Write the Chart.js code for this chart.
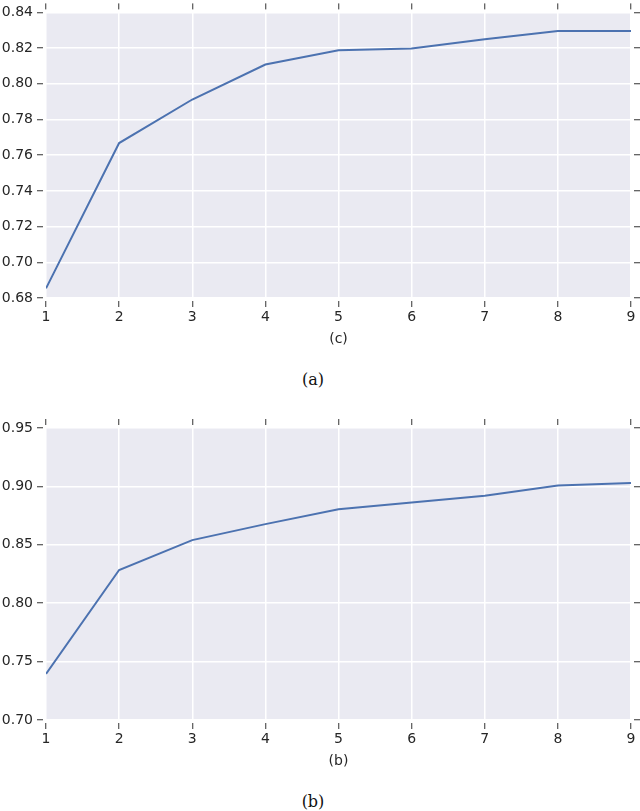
<!DOCTYPE html>
<html>
<head>
<meta charset="utf-8">
<script src="https://cdn.jsdelivr.net/npm/chart.js@4"></script>
<style>
  body { margin: 0; background: #fff; }
  #wrap { position: relative; width: 640px; height: 811px; }
  canvas { position: absolute; left: 0; }
  .cap { position: absolute; left: 0; width: 626px; text-align: center;
         font: 16px "DejaVu Serif", serif; line-height: 18px; color: #111; }
</style>
</head>
<body>
<div id="wrap">
  <canvas id="chartA" width="640" height="351" style="top:0"></canvas>
  <div class="cap" style="top:371px">(a)</div>
  <canvas id="chartB" width="640" height="373" style="top:400px"></canvas>
  <div class="cap" style="top:793px">(b)</div>
</div>
<script>
// data
const steps = [1, 2, 3, 4, 5, 6, 7, 8, 9];
const scoresA = [0.6854, 0.7668, 0.7912, 0.8108, 0.8188, 0.8198, 0.8250, 0.8296, 0.8296];
const scoresB = [0.7395, 0.8284, 0.8540, 0.8677, 0.8805, 0.8862, 0.8919, 0.9007, 0.9030];
const yTicksA = [0.68, 0.70, 0.72, 0.74, 0.76, 0.78, 0.80, 0.82, 0.84];
const yTicksB = [0.70, 0.75, 0.80, 0.85, 0.90, 0.95];

const tickFont = { family: "DejaVu Sans", size: 14 };
const textColor = "#262626";

// seaborn-like grey plot background
const plotBg = {
    id: "plotBg",
    beforeDraw(chart) {
        const a = chart.chartArea;
        const ctx = chart.ctx;
        ctx.save();
        ctx.fillStyle = "#EAEAF2";
        ctx.fillRect(a.left, a.top, a.right - a.left, a.bottom - a.top);
        ctx.restore();
    }
};

function gridOpts(onArea, dash) {
    return {
        display: true,
        drawOnChartArea: onArea,
        color: "#FFFFFF",
        lineWidth: 1.5,
        tickColor: "#333333",
        tickWidth: 1,
        tickLength: 9,
        tickBorderDash: dash
    };
}

function makeChart(id, scores, yTicks, xTitle, topH) {
    const yMin = yTicks[0];
    const yMax = yTicks[yTicks.length - 1];
    const setX = s => { s.ticks = steps.map(v => ({ value: v })); };
    const setY = s => { s.ticks = yTicks.map(v => ({ value: v })); };

    new Chart(document.getElementById(id), {
        type: "line",
        data: {
            datasets: [{
                data: steps.map((s, i) => ({ x: s, y: scores[i] })),
                borderColor: "#4C72B0",
                borderWidth: 2,
                pointRadius: 0,
                tension: 0,
                fill: false
            }]
        },
        options: {
            responsive: false,
            animation: false,
            layout: { padding: 0 },
            plugins: {
                legend: { display: false },
                tooltip: { enabled: false }
            },
            scales: {
                x: {
                    type: "linear", position: "bottom", min: 1, max: 9,
                    afterBuildTicks: setX,
                    afterFit: s => { s.height = 53; },
                    grid: gridOpts(true, [0, 3, 6, 100]),
                    border: { display: false },
                    ticks: { color: textColor, font: tickFont, padding: 2, maxRotation: 0 },
                    title: { display: true, text: xTitle, color: textColor, font: tickFont,
                             padding: { top: 0, bottom: 3 } }
                },
                x2: {
                    type: "linear", position: "top", min: 1, max: 9,
                    afterBuildTicks: setX,
                    afterFit: s => { s.height = topH; },
                    grid: gridOpts(false, [6, 3]),
                    border: { display: false },
                    ticks: { display: false }
                },
                y: {
                    type: "linear", position: "left", min: yMin, max: yMax,
                    afterBuildTicks: setY,
                    afterFit: s => { s.width = 46; },
                    grid: gridOpts(true, [6, 3]),
                    border: { display: false },
                    ticks: { color: textColor, font: tickFont, padding: 4,
                             callback: v => v.toFixed(2) }
                },
                y2: {
                    type: "linear", position: "right", min: yMin, max: yMax,
                    afterBuildTicks: setY,
                    afterFit: s => { s.width = 9; },
                    grid: gridOpts(false, [0, 3, 6, 100]),
                    border: { display: false },
                    ticks: { display: false }
                }
            }
        },
        plugins: [plotBg]
    });
}

makeChart("chartA", scoresA, yTicksA, "(c)", 8);
makeChart("chartB", scoresB, yTicksB, "(b)", 28);
</script>
</body>
</html>
